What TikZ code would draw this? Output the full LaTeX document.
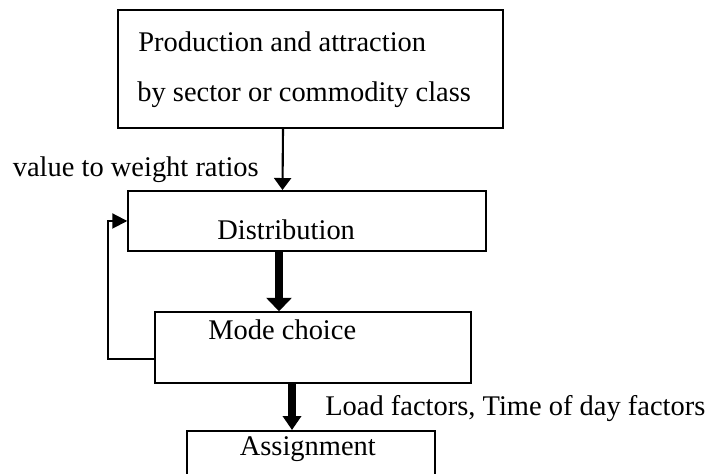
\documentclass[tikz,border=0pt]{standalone}
\usepackage{fontspec}
\setmainfont{Liberation Serif}
\usetikzlibrary{arrows.meta}

\begin{document}
\begin{tikzpicture}[
  box/.style={draw, rectangle, line width=1.1pt, inner sep=0pt},
  txt/.style={anchor=base west, inner sep=0pt, font=\fontsize{16.2}{19}\selectfont},
  thinarrow/.style={draw, line width=1.2pt, -{Triangle[width=0.34cm,length=0.24cm]}},
  thickarrow/.style={draw, line width=4.5pt, -{Triangle[width=0.5cm,length=0.27cm]}},
  thickarrowb/.style={draw, line width=4pt, -{Triangle[width=0.36cm,length=0.28cm]}},
  backarrow/.style={draw, line width=1.1pt, -{Triangle[width=0.3cm,length=0.3cm]}}
]
\useasboundingbox (0,0) rectangle (14.26,9.48);

\node[box, minimum width=7.71cm, minimum height=2.35cm] (prod) at (6.21,8.10) {};
\node[box, minimum width=7.15cm, minimum height=1.2cm] (dist) at (6.14,5.06) {};
\node[box, minimum width=6.32cm, minimum height=1.41cm] (mode) at (6.26,2.53) {};
\node[box, minimum width=4.96cm, minimum height=1.0cm] (assign) at (6.22,0.36) {};

\node[txt] (prodA) at (2.76,8.45) {Production and attraction};
\node[txt] (prodB) at (2.74,7.45) {by sector or commodity class};
\node[txt] (ratio) at (0.25,5.95) {value to weight ratios};
\node[txt] (distT) at (4.34,4.69) {Distribution};
\node[txt] (modeT) at (4.16,2.69) {Mode choice};
\node[txt] (load) at (6.50,1.16) {Load factors, Time of day factors};
\node[txt] (assignT) at (4.79,0.36) {Assignment};

\coordinate (back) at (2.16,0);

\path[thinarrow] ([xshift=-0.55cm]prod.south) -- ([xshift=-0.49cm]dist.north);
\path[thickarrow] ([xshift=-0.56cm]dist.south) -- ([xshift=-0.68cm]mode.north);
\path[thickarrowb] ([xshift=-0.42cm]mode.south) -- ([xshift=-0.38cm]assign.north);
\path[backarrow] ([yshift=-0.23cm]mode.west) -| (back |- dist.west) -- (dist.west);
\end{tikzpicture}
\end{document}
